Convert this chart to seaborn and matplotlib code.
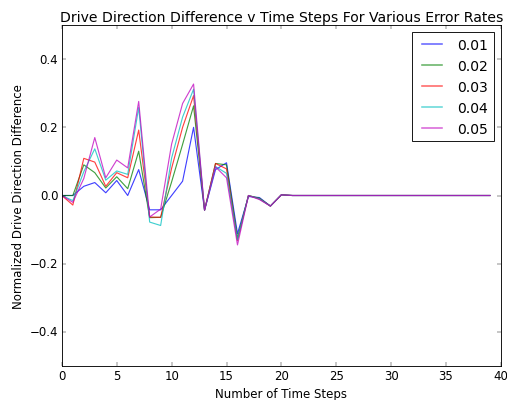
import matplotlib
matplotlib.use('Agg')
import pandas as pd
import seaborn as sns
import matplotlib.pyplot as plt

# --- Styling (old matplotlib "classic" look) ---
plt.style.use('classic')
plt.rcParams['font.family'] = ['DejaVu Sans']
plt.rcParams['font.size'] = 13.3
plt.rcParams['figure.facecolor'] = 'white'

# --- Data: one series per error rate, time steps 0..39 ---
steps = list(range(40))
error_rates = ['0.01', '0.02', '0.03', '0.04', '0.05']

diff_001 = [0.0, 0.0, 0.027, 0.038, 0.008, 0.044, 0.0, 0.076, -0.042, -0.042,
            0.0, 0.042, 0.200, -0.043, 0.076, 0.096, -0.112, -0.003, -0.006, -0.031,
            0.002, 0.0, 0.0, 0.0, 0.0, 0.0, 0.0, 0.0, 0.0, 0.0,
            0.0, 0.0, 0.0, 0.0, 0.0, 0.0, 0.0, 0.0, 0.0, 0.0]
diff_002 = [0.0, 0.0, 0.090, 0.067, 0.022, 0.055, 0.020, 0.130, -0.065, -0.064,
            0.040, 0.150, 0.263, -0.043, 0.094, 0.090, -0.125, 0.0, -0.008, -0.031,
            0.002, 0.0, 0.0, 0.0, 0.0, 0.0, 0.0, 0.0, 0.0, 0.0,
            0.0, 0.0, 0.0, 0.0, 0.0, 0.0, 0.0, 0.0, 0.0, 0.0]
diff_003 = [0.0, -0.028, 0.109, 0.098, 0.027, 0.067, 0.052, 0.192, -0.063, -0.064,
            0.080, 0.200, 0.293, -0.043, 0.094, 0.078, -0.132, 0.0, -0.010, -0.031,
            0.002, 0.0, 0.0, 0.0, 0.0, 0.0, 0.0, 0.0, 0.0, 0.0,
            0.0, 0.0, 0.0, 0.0, 0.0, 0.0, 0.0, 0.0, 0.0, 0.0]
diff_004 = [0.0, -0.015, 0.070, 0.137, 0.045, 0.072, 0.062, 0.258, -0.078, -0.088,
            0.110, 0.230, 0.312, -0.043, 0.085, 0.065, -0.130, 0.0, -0.010, -0.031,
            0.002, 0.0, 0.0, 0.0, 0.0, 0.0, 0.0, 0.0, 0.0, 0.0,
            0.0, 0.0, 0.0, 0.0, 0.0, 0.0, 0.0, 0.0, 0.0, 0.0]
diff_005 = [0.0, -0.020, 0.050, 0.170, 0.052, 0.104, 0.081, 0.276, -0.063, -0.040,
            0.151, 0.270, 0.327, -0.043, 0.084, 0.052, -0.145, 0.0, -0.012, -0.031,
            0.002, 0.0, 0.0, 0.0, 0.0, 0.0, 0.0, 0.0, 0.0, 0.0,
            0.0, 0.0, 0.0, 0.0, 0.0, 0.0, 0.0, 0.0, 0.0, 0.0]

series = [diff_001, diff_002, diff_003, diff_004, diff_005]
df = pd.concat(
    [pd.DataFrame({'step': steps, 'diff': vals, 'rate': rate})
     for rate, vals in zip(error_rates, series)],
    ignore_index=True,
)

classic_palette = ['b', 'g', 'r', 'c', 'm']

fig = plt.figure(figsize=(8, 6.327), dpi=63.375)
ax = fig.add_axes([0.122, 0.085, 0.866, 0.85])
sns.lineplot(data=df, x='step', y='diff', hue='rate', hue_order=error_rates,
             palette=classic_palette, errorbar=None, linewidth=1.3, alpha=0.75,
             legend=False, ax=ax)

ax.set_xlim(0, 40)
ax.set_ylim(-0.5, 0.5)
ax.set_xticks([0, 5, 10, 15, 20, 25, 30, 35, 40])
ax.set_yticks([-0.4, -0.2, 0.0, 0.2, 0.4])
ax.set_title('Drive Direction Difference v Time Steps For Various Error Rates')
ax.set_xlabel('Number of Time Steps')
ax.set_ylabel('Normalized Drive Direction Difference')
leg = ax.legend(handles=ax.get_lines()[:5], labels=error_rates,
                loc='upper right', fancybox=False)
for line in leg.get_lines():
    line.set_linewidth(1.8)
    line.set_alpha(0.6)

fig.savefig('out.png', dpi=63.375, facecolor='white')
